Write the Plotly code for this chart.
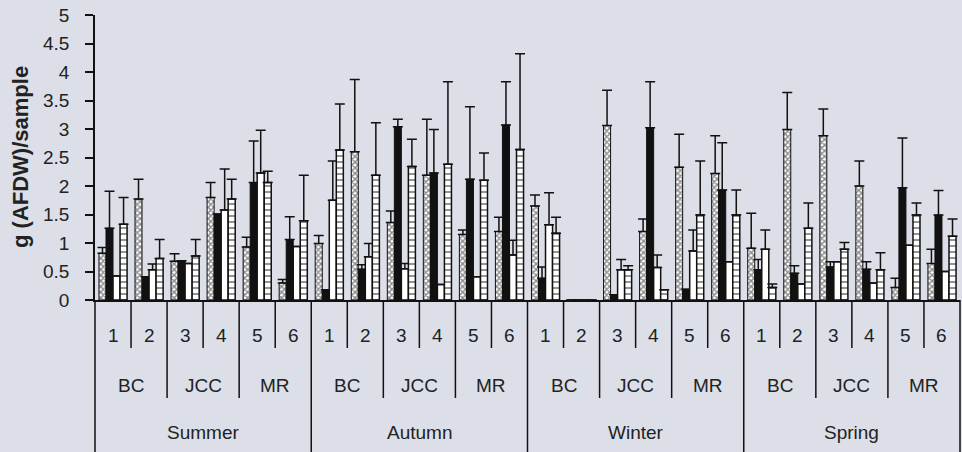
import plotly.graph_objects as go

seasons = ["Summer", "Autumn", "Winter", "Spring"]
rivers = ["BC", "JCC", "MR"]
site_labels = ["1", "2", "3", "4", "5", "6"]
y_title = "g (AFDW)/sample"

# values per group: Summer 1-6, Autumn 1-6, Winter 1-6, Spring 1-6
checkered = [0.82, 1.77, 0.68, 1.80, 0.93, 0.30,
             0.99, 2.60, 1.36, 2.19, 1.15, 1.20,
             1.65, 0.00, 3.06, 1.20, 2.33, 2.22,
             0.91, 2.99, 2.88, 2.00, 0.22, 0.64]
checkered_err = [0.10, 0.35, 0.13, 0.26, 0.17, 0.06,
                 0.14, 1.27, 0.20, 0.98, 0.08, 0.25,
                 0.19, None, 0.62, 0.22, 0.58, 0.66,
                 0.61, 0.65, 0.47, 0.44, 0.16, 0.25]
black = [1.26, 0.41, 0.69, 1.51, 2.06, 1.06,
         0.18, 0.54, 3.04, 2.23, 2.12, 3.07,
         0.38, 0.00, 0.09, 3.02, 0.19, 1.93,
         0.53, 0.47, 0.58, 0.54, 1.97, 1.49]
black_err = [0.65, None, None, None, 0.73, 0.40,
             None, 0.08, 0.13, 0.76, 1.27, 0.76,
             0.20, None, None, 0.81, None, 0.83,
             0.18, 0.13, 0.09, 0.13, 0.87, 0.43]
white = [0.42, 0.53, 0.64, 1.58, 2.23, 0.94,
         1.75, 0.76, 0.55, 0.27, 0.41, 0.79,
         1.32, 0.00, 0.53, 0.57, 0.86, 0.67,
         0.89, 0.28, 0.67, 0.30, 0.96, 0.50]
white_err = [None, 0.10, None, 0.72, 0.75, None,
             0.69, 0.23, 0.09, None, None, 0.26,
             0.56, None, 0.18, 0.22, 0.37, None,
             0.34, None, None, None, None, None]
ladder = [1.33, 0.73, 0.77, 1.77, 2.06, 1.39,
          2.63, 2.19, 2.34, 2.38, 2.10, 2.64,
          1.17, 0.00, 0.53, 0.18, 1.49, 1.49,
          0.22, 1.26, 0.89, 0.53, 1.49, 1.12]
ladder_err = [0.47, 0.33, 0.29, 0.35, 0.20, 0.80,
              0.81, 0.92, 0.48, 1.45, 0.48, 1.68,
              0.28, None, 0.07, None, 0.95, 0.44,
              0.06, 0.44, 0.12, 0.30, 0.21, 0.30]

n = len(seasons) * len(site_labels)
x = list(range(n))
BG = "#dcdfe8"
INK = "#111111"
FAMILY = "Liberation Sans, Arial, sans-serif"

W, H = 962, 452
ML, MR, MT, MB = 95, 2, 15, 152
PLOT_W = W - ML - MR
PLOT_H = H - MT - MB


def err(vals):
    return dict(type="data", symmetric=False, array=vals,
                arrayminus=[0] * len(vals), color=INK, thickness=1.5, width=5)


fig = go.Figure()
fig.add_bar(x=x, y=checkered, error_y=err(checkered_err),
            marker=dict(color="white", line=dict(color=INK, width=1),
                        pattern=dict(shape="x", size=4, solidity=0.6,
                                     fgcolor=INK, bgcolor="white")))
fig.add_bar(x=x, y=black, error_y=err(black_err),
            marker=dict(color=INK, line=dict(color=INK, width=1)))
fig.add_bar(x=x, y=white, error_y=err(white_err),
            marker=dict(color="white", line=dict(color=INK, width=1.5)))
fig.add_bar(x=x, y=ladder, error_y=err(ladder_err),
            marker=dict(color="white", line=dict(color=INK, width=1.5),
                        pattern=dict(shape="-", size=6, solidity=0.3,
                                     fgcolor=INK, bgcolor="white")))


def py(pix):
    return -pix / PLOT_H


shapes = []
for i in range(n + 1):
    if i % len(site_labels) == 0:
        depth = MB
    elif i % 2 == 0:
        depth = 98
    else:
        depth = 48
    shapes.append(dict(type="line", xref="paper", yref="paper",
                       x0=i / n, x1=i / n, y0=0, y1=py(depth),
                       line=dict(color=INK, width=1.5)))

annotations = []
font = dict(family=FAMILY, size=19, color="#222")
common = dict(xref="x", yref="paper", xanchor="center", yanchor="middle",
              showarrow=False, font=font)
for i in range(n):
    annotations.append(dict(x=x[i], y=py(35),
                            text=site_labels[i % len(site_labels)], **common))
for s in range(len(seasons)):
    for r in range(len(rivers)):
        i0 = s * len(site_labels) + r * 2
        annotations.append(dict(x=(x[i0] + x[i0 + 1]) / 2, y=py(85),
                                text=rivers[r], **common))
    i0 = s * len(site_labels)
    annotations.append(dict(x=(x[i0] + x[i0 + 5]) / 2, y=py(132),
                            text=seasons[s], **common))
annotations.append(dict(x=(20 - ML) / PLOT_W, y=(PLOT_H - (157 - MT)) / PLOT_H,
                        xref="paper", yref="paper", xanchor="center",
                        yanchor="middle", text="<b>%s</b>" % y_title,
                        textangle=-90, showarrow=False,
                        font=dict(family=FAMILY, size=22, color="#222")))

fig.update_layout(
    width=W, height=H,
    margin=dict(l=ML, r=MR, t=MT, b=MB, autoexpand=False),
    paper_bgcolor=BG, plot_bgcolor=BG,
    barmode="group", bargap=0.22, bargroupgap=0,
    showlegend=False,
    shapes=shapes, annotations=annotations,
    font=font,
    xaxis=dict(range=[-0.5, n - 0.5], showticklabels=False, ticks="",
               showgrid=False, zeroline=False, showline=True,
               linecolor=INK, linewidth=1.5, automargin=False),
    yaxis=dict(range=[0, 5], dtick=0.5, tick0=0, ticks="outside", ticklen=8,
               tickwidth=1.5, tickcolor=INK, showgrid=False, zeroline=False,
               showline=True, linecolor=INK, linewidth=1.5,
               ticklabelstandoff=12, automargin=False,
               tickfont=dict(family=FAMILY, size=19, color="#222")),
)

fig.write_html("out.html", config={"displayModeBar": False},
               post_script="document.body.style.margin='0';"
                           "document.body.style.background='%s';" % BG)
